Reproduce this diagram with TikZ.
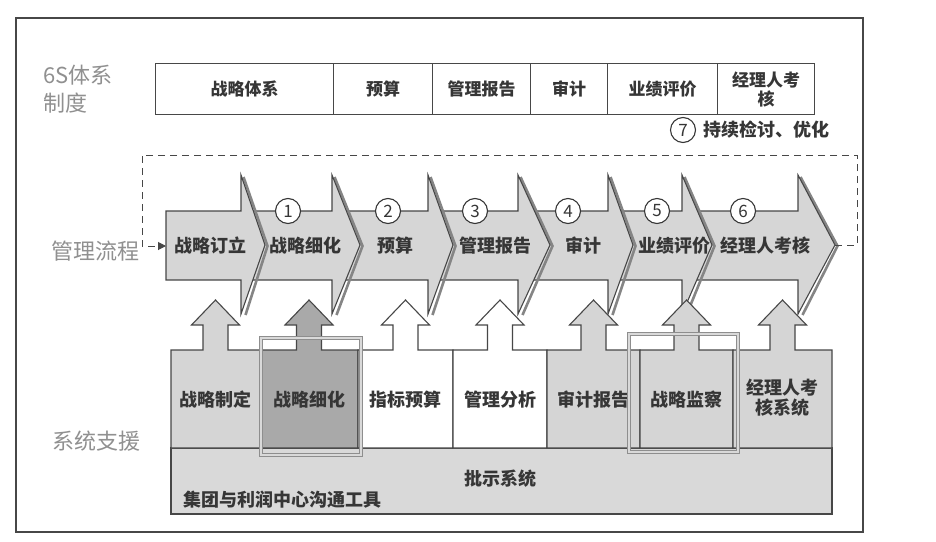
\documentclass[tikz,border=0pt]{standalone}
\usepackage{fontspec}
\setmainfont{Noto Sans CJK SC}
\usetikzlibrary{arrows.meta}
\definecolor{linec}{HTML}{474747}
\definecolor{textc}{HTML}{363636}
\definecolor{labelc}{HTML}{909090}
\definecolor{chevfill}{HTML}{D6D6D6}
\definecolor{shadowc}{HTML}{858585}
\definecolor{boxl}{HTML}{D5D5D5}
\definecolor{boxd}{HTML}{A9A9A9}
\definecolor{barfill}{HTML}{D9D9D9}
\definecolor{hlc}{HTML}{8E8E8E}
\begin{document}
\begin{tikzpicture}[x=1pt,y=-1pt,
  frame/.style={draw=linec,line width=1.2pt},
  cell/.style={draw=linec,line width=1.1pt,fill=white,minimum height=51pt,inner sep=0pt,anchor=north west,align=center,text=textc,font=\bfseries\fontsize{17}{19}\selectfont},
  chev/.style={fill=chevfill,draw=linec,line width=1.1pt,line join=miter},
  shadowline/.style={draw=shadowc,line width=2.6pt},
  ctext/.style={text=textc,font=\bfseries\fontsize{18}{20}\selectfont,inner sep=0pt,align=center},
  lbl/.style={text=labelc,font=\fontsize{22}{26}\selectfont,inner sep=0pt},
  circnum/.style={circle,draw=textc,line width=1.1pt,fill=white,minimum size=25pt,inner sep=0pt,text=textc,font=\fontsize{17}{17}\selectfont},
  supbox/.style={draw=linec,line width=1.1pt,line join=miter},
  hl/.style={draw=hlc,line width=0.9pt,double=gray!30,double distance=1.4pt},
  loopline/.style={draw=linec,line width=1pt,dash pattern=on 7pt off 5pt}
]
\useasboundingbox (0,0) rectangle (936,541);
\fill[white] (0,0) rectangle (936,541);
% outer frame
\draw[frame] (16,18) rectangle (863,532);

% left labels
\node[lbl,anchor=west] (lab6s) at (43,75) {6S体系};
\node[lbl,anchor=west] (labzd) at (43,103) {制度};
\node[lbl,anchor=east] (labgl) at (140,251) {管理流程};
\node[lbl,anchor=west] (labxt) at (52,441) {系统支援};

% top table
\node[cell,minimum width=178pt] (t1) at (155,63) {战略体系};
\node[cell,minimum width=99pt] (t2) at (333,63) {预算};
\node[cell,minimum width=98pt] (t3) at (432,63) {管理报告};
\node[cell,minimum width=77pt] (t4) at (530,63) {审计};
\node[cell,minimum width=110pt] (t5) at (607,63) {业绩评价};
\node[cell,minimum width=97pt] (t6) at (717,63) {经理人考\\核};

% (7) continuous review
\node[circnum] (n7) at (683,130) {7};
\node[ctext,anchor=west] (t7) at (703,130) {持续检讨、优化};

% chevrons (drawn right to left so that each head overlaps the next body)
\foreach \l/\h/\t in {682/798/835, 608/682/712, 518/608/633, 428/518/550, 332/428/453, 241/332/360, 166/241/265}{
  \draw[shadowline] (\h+2.5,177) -- (\t+2.5,246) -- (\h+4.5,315);
  \draw[chev] (\l,211) -- (\h,211) -- (\h,175) -- (\t,245) -- (\h,314) -- (\h,280) -- (\l,280) -- cycle;
}
\coordinate (in1) at (166,246);
\coordinate (tip7) at (835,245);

\node[ctext] (c1) at (210,246) {战略订立};
\node[ctext] (c2) at (305,246) {战略细化};
\node[ctext] (c3) at (395,246) {预算};
\node[ctext] (c4) at (495,246) {管理报告};
\node[ctext] (c5) at (583,246) {审计};
\node[ctext] (c6) at (674,246) {业绩评价};
\node[ctext] (c7) at (765,246) {经理人考核};

\node[circnum] (n1) at (288,211) {1};
\node[circnum] (n2) at (388,211) {2};
\node[circnum] (n3) at (475,211) {3};
\node[circnum] (n4) at (568,211) {4};
\node[circnum] (n5) at (657,211) {5};
\node[circnum] (n6) at (743,211) {6};

% dashed feedback loop
\coordinate (lr) at (857,245);
\coordinate (ur) at (857,155);
\coordinate (ul) at (142,155);
\coordinate (ll) at (142,246);
\draw[loopline,-{Triangle[length=8pt,width=8pt]}] (tip7) -- (lr) -- (ur) -- (ul) -- (ll) -- (in1);

% bottom bar
\draw[supbox,fill=barfill] (171,448) rectangle (832,514);
\node[ctext,anchor=west] (b1) at (183,500) {集团与利润中心沟通工具};
\node[ctext] (b2) at (500,479) {批示系统};

% support boxes with up arrows
\foreach \xl/\xr/\fc in {171/260/boxl, 260/358/boxd, 358/453/white, 453/547/white, 547/640/boxl, 640/733/boxl, 733/832/boxl}{
  \pgfmathsetmacro\cx{(\xl+\xr)/2}
  \draw[supbox,fill=\fc] (\xl,350) -- (\cx-12.5,350) -- (\cx-12.5,325) -- (\cx-24,325) -- (\cx,300)
     -- (\cx+24,325) -- (\cx+12.5,325) -- (\cx+12.5,350) -- (\xr,350) -- (\xr,448) -- (\xl,448) -- cycle;
}
\node[ctext] (s1) at (215.5,400) {战略制定};
\node[ctext] (s2) at (309,400) {战略细化};
\node[ctext] (s3) at (405.5,400) {指标预算};
\node[ctext] (s4) at (500,400) {管理分析};
\node[ctext] (s5) at (593.5,400) {审计报告};
\node[ctext] (s6) at (686.5,400) {战略监察};
\node[ctext] (s7) at (782.5,398) {经理人考\\核系统};

% highlight frames
\draw[hl] (261,338) rectangle (361,455);
\draw[hl] (629,334) rectangle (738,452);
\end{tikzpicture}
\end{document}
